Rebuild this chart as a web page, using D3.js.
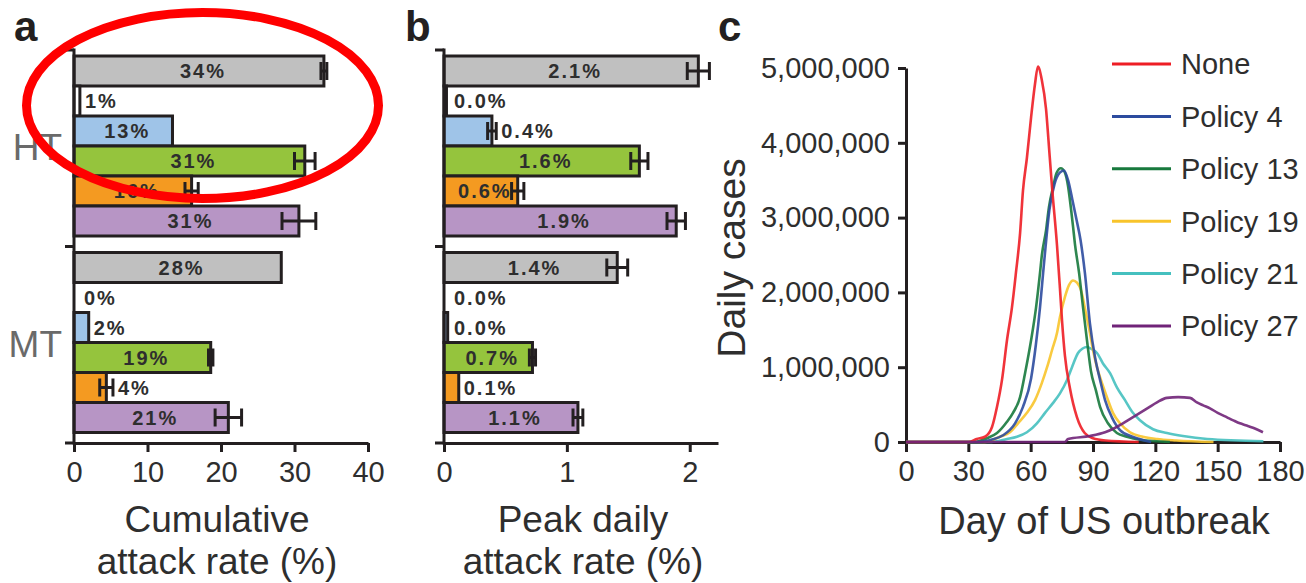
<!DOCTYPE html>
<html><head><meta charset="utf-8">
<script src="https://cdn.jsdelivr.net/npm/d3@7"></script>
<style>
body{margin:0;background:#fff;}
svg{display:block;font-family:"Liberation Sans",Arial,Helvetica,sans-serif;}
</style></head><body>
<svg id="chart" width="1306" height="583"></svg>
<script>
// ---------- DATA ----------
const groups = ["HT", "MT"];
const barKeys = ["grey", "white", "blue", "green", "orange", "purple"];
const barColors = ["#c0c0c0", "#ffffff", "#9fc4e8", "#95c43d", "#f49a21", "#b795c5"];

// Panel a: cumulative attack rate (%)
const cumHT    = [34.0, 0.8, 13.4, 31.4, 16.0, 30.6];
const cumHTErr = [0.4, 0, 0, 1.4, 0.9, 2.3];
const cumMT    = [28.2, 0, 2.0, 18.6, 4.4, 21.0];
const cumMTErr = [0, 0, 0, 0.3, 0.9, 1.8];
const cumTicks = [0, 10, 20, 30, 40];

// Panel b: peak daily attack rate (%)
const peakHT    = [2.07, 0.02, 0.39, 1.59, 0.60, 1.89];
const peakHTErr = [0.09, 0, 0.035, 0.07, 0.05, 0.075];
const peakMT    = [1.41, 0.0, 0.03, 0.72, 0.12, 1.09];
const peakMTErr = [0.085, 0, 0, 0.025, 0, 0.04];
const peakTicks = [0, 1, 2];

// Panel c: daily cases (millions) by day of US outbreak
const seriesNames  = ["None", "Policy 4", "Policy 13", "Policy 19", "Policy 21", "Policy 27"];
const seriesColors = ["#ee1d25", "#2c4b9e", "#17793d", "#f8c42b", "#45c0bf", "#702378"];
const noneDays  = [0,30,34,38,41.4,43.8,46.2,48.6,51,52.9,54.9,56.3,58.2,60.2,62.1,63.5,65.3,67.4,68.8,70.3,72.7,74.1,75.1,76.5,78.9,82.3,86,90,96,112];
const noneCases = [0,0,0.04,0.07,0.2,0.47,0.83,1.36,1.8,2.26,2.79,3.36,3.8,4.34,4.79,5.02,4.85,4.45,3.95,3.4,2.62,2.05,1.62,1.15,0.72,0.33,0.12,0.05,0.02,0];
const p4Days  = [0,35,41,46.7,52.5,56.3,60.2,62.5,64.5,66,67.2,69,71.5,74,76,78,80,82,84,86.1,88.5,91,93.4,95.8,99.1,103,109,118];
const p4Cases = [0,0,0.03,0.09,0.25,0.47,0.85,1.3,1.8,2.26,2.62,3.1,3.45,3.6,3.63,3.5,3.25,2.98,2.7,2.26,1.59,1.13,0.83,0.56,0.33,0.16,0.07,0];
const p13Days  = [0,33,39,43.8,48.6,51.5,54.9,57.3,60.2,62.6,64.5,65.4,67.4,68.8,70.7,72.5,74.5,76.5,78,79.4,80.4,81.3,83.3,85.2,87.1,89,91.4,93.4,97.2,101.5,106.3,112.6,127];
const p13Cases = [0,0,0.05,0.12,0.27,0.39,0.6,0.92,1.36,1.8,2.26,2.5,2.83,3.14,3.4,3.6,3.66,3.6,3.42,3.12,2.88,2.65,2.26,1.8,1.36,0.95,0.69,0.47,0.25,0.12,0.07,0.03,0];
const p19Days  = [0,38,45.2,50,53.9,58.2,62.1,65.4,67.9,70.3,72.7,74.1,76.5,78.5,80.4,82.3,84.2,86.6,88.5,90,91.9,94.3,96.7,99.6,103,107.8,114,120.8,130,148];
const p19Cases = [0,0,0.07,0.13,0.25,0.39,0.56,0.79,1.0,1.23,1.46,1.67,1.94,2.1,2.16,2.13,2.03,1.72,1.46,1.23,1.0,0.79,0.6,0.39,0.25,0.13,0.07,0.04,0.02,0];
const p21Days  = [0,40,48.6,53.4,58.2,63,66.9,70.7,74.1,77.5,79.9,82.8,85,87.1,89.5,91.9,94.8,98.2,101.5,105.4,109.2,112.6,118.9,125.6,133.3,145,172];
const p21Cases = [0,0,0.04,0.07,0.13,0.25,0.39,0.52,0.65,0.83,1.0,1.19,1.25,1.27,1.24,1.19,1.05,0.92,0.73,0.56,0.39,0.29,0.17,0.12,0.08,0.04,0.01];
const p27Days  = [0,76.5,78,88.5,95.8,100,104.4,108.5,112.6,116.7,120.8,125.6,131,136.7,140,143,146.3,150,154.5,157.5,160.7,164,167,171.8];
const p27Cases = [0,0,0.04,0.08,0.13,0.18,0.25,0.32,0.39,0.46,0.53,0.59,0.6,0.59,0.53,0.49,0.45,0.39,0.33,0.29,0.25,0.22,0.19,0.13];
const dayTicks = [0, 30, 60, 90, 120, 150, 180];
const caseTicks = [0, 1e6, 2e6, 3e6, 4e6, 5e6];

// ---------- DRAW ----------
const svg = d3.select("#chart");
const ink = "#231f20";
const txt = "#2e2e2e";

function styleAxis(g, fs) {
  g.select(".domain").attr("stroke", ink).attr("stroke-width", 3);
  g.selectAll(".tick line").attr("stroke", ink).attr("stroke-width", 3);
  g.selectAll(".tick text").attr("fill", txt).style("font-size", fs + "px").style("font-family", '"Liberation Sans",Arial,sans-serif');
}

function barPanel(o) {
  const x = d3.scaleLinear().domain([0, o.max]).range([o.x0, o.x1]);
  const gScale = d3.scaleBand().domain(groups).range([50, 443]);
  const inner = d3.scaleBand().domain(d3.range(barKeys.length)).range([6, 186]);
  const bh = inner.bandwidth();
  const data = [];
  groups.forEach((g, gi) => {
    const vals = gi === 0 ? o.ht : o.mt;
    const errs = gi === 0 ? o.htErr : o.mtErr;
    vals.forEach((v, i) => data.push({g, i, v, e: errs[i]}));
  });
  const p = svg.append("g");
  p.selectAll("rect.bar").data(data.filter(d => d.v > 0)).join("rect")
    .attr("x", x(0))
    .attr("y", d => gScale(d.g) + inner(d.i))
    .attr("width", d => x(d.v) - x(0))
    .attr("height", bh)
    .attr("fill", d => barColors[d.i])
    .attr("stroke", ink).attr("stroke-width", 3);
  const eb = data.filter(d => d.e > 0);
  const cy = d => gScale(d.g) + inner(d.i) + bh / 2;
  p.selectAll("line.eh").data(eb).join("line")
    .attr("x1", d => x(d.v - d.e)).attr("x2", d => x(d.v + d.e))
    .attr("y1", cy).attr("y2", cy).attr("stroke", ink).attr("stroke-width", 3);
  [-1, 1].forEach(s => {
    p.selectAll("line.ec" + (s + 1)).data(eb).join("line")
      .attr("x1", d => x(d.v + s * d.e)).attr("x2", d => x(d.v + s * d.e))
      .attr("y1", d => cy(d) - 9).attr("y2", d => cy(d) + 9)
      .attr("stroke", ink).attr("stroke-width", 3);
  });
  p.selectAll("text.lab").data(data).join("text")
    .attr("x", d => {
      const w = x(d.v) - x(0);
      if (w > 60) return (x(0) + x(d.v)) / 2 + 4;
      return Math.max(x(d.v), x(d.v + d.e), x(0) + 5) + 5;
    })
    .attr("y", cy).attr("dy", "0.36em")
    .attr("text-anchor", d => (x(d.v) - x(0) > 60 ? "middle" : "start"))
    .attr("fill", txt).style("font-size", "20px").style("font-weight", "bold")
    .style("letter-spacing", "2px")
    .text(d => o.fmt(d.v) + "%");
  p.append("line").attr("x1", o.x0).attr("x2", o.x0).attr("y1", 48.5).attr("y2", 444.5)
    .attr("stroke", ink).attr("stroke-width", 3);
  const bounds = [gScale("HT"), gScale("MT"), gScale("MT") + gScale.bandwidth()];
  p.selectAll("line.yt").data(bounds).join("line")
    .attr("x1", o.x0 - 9).attr("x2", o.x0).attr("y1", d => d).attr("y2", d => d)
    .attr("stroke", ink).attr("stroke-width", 3);
  const ax = p.append("g").attr("transform", "translate(0,443)")
    .call(d3.axisBottom(x).tickValues(o.ticks).tickSize(9).tickPadding(9).tickSizeOuter(0).tickFormat(d3.format("d")));
  styleAxis(ax, 29);
  o.title.forEach((t, k) => {
    p.append("text").attr("x", o.tx).attr("y", 532 + k * 42).attr("text-anchor", "middle")
      .attr("fill", txt).style("font-size", "37px").text(t);
  });
  return gScale;
}

const gA = barPanel({x0: 74, x1: 368, max: 40, ticks: cumTicks, ht: cumHT, htErr: cumHTErr, mt: cumMT, mtErr: cumMTErr,
  fmt: d3.format(".0f"), title: ["Cumulative", "attack rate (%)"], tx: 217});
barPanel({x0: 444, x1: 718, max: 2.23, ticks: peakTicks, ht: peakHT, htErr: peakHTErr, mt: peakMT, mtErr: peakMTErr,
  fmt: d3.format(".1f"), title: ["Peak daily", "attack rate (%)"], tx: 583});

svg.selectAll("text.grp").data(groups).join("text")
  .attr("x", 62).attr("y", d => gA(d) + gA.bandwidth() / 2 + 12)
  .attr("text-anchor", "end").attr("fill", "#6a6a6a").style("font-size", "37px").text(d => d);

// Panel c
const xC = d3.scaleLinear().domain([0, 180]).range([906, 1280]);
const yC = d3.scaleLinear().domain([0, 5e6]).range([442, 68]);
const axX = svg.append("g").attr("transform", "translate(0,442)")
  .call(d3.axisBottom(xC).tickValues(dayTicks).tickSize(10).tickPadding(8).tickSizeOuter(0));
styleAxis(axX, 29);
const axY = svg.append("g").attr("transform", "translate(906,0)")
  .call(d3.axisLeft(yC).tickValues(caseTicks).tickFormat(d3.format(",")).tickSize(8).tickPadding(8).tickSizeOuter(0));
styleAxis(axY, 29);

const series = [
  {name: seriesNames[0], color: seriesColors[0], days: noneDays, cases: noneCases},
  {name: seriesNames[1], color: seriesColors[1], days: p4Days, cases: p4Cases},
  {name: seriesNames[2], color: seriesColors[2], days: p13Days, cases: p13Cases},
  {name: seriesNames[3], color: seriesColors[3], days: p19Days, cases: p19Cases},
  {name: seriesNames[4], color: seriesColors[4], days: p21Days, cases: p21Cases},
  {name: seriesNames[5], color: seriesColors[5], days: p27Days, cases: p27Cases}
];
const drawOrder = [4, 3, 2, 1, 0, 5];
const line = d3.line().x(d => xC(d[0])).y(d => yC(d[1] * 1e6)).curve(d3.curveMonotoneX);
svg.append("g").selectAll("path").data(drawOrder.map(i => series[i])).join("path")
  .attr("d", s => line(s.days.map((d, k) => [d, s.cases[k]])))
  .attr("fill", "none").attr("stroke", s => s.color).attr("stroke-width", 2.6)
  .attr("stroke-opacity", 0.9);

const lg = svg.append("g");
series.forEach((s, i) => {
  const y = 64 + i * 52.4;
  lg.append("line").attr("x1", 1112).attr("x2", 1171).attr("y1", y).attr("y2", y)
    .attr("stroke", s.color).attr("stroke-width", 3);
  lg.append("text").attr("x", 1181).attr("y", y).attr("dy", "0.36em")
    .attr("fill", txt).style("font-size", "29px").text(s.name);
});

svg.append("text").attr("x", 1104).attr("y", 534).attr("text-anchor", "middle")
  .attr("fill", txt).style("font-size", "38px").text("Day of US outbreak");
svg.append("text").attr("transform", "translate(745,258) rotate(-90)").attr("text-anchor", "middle")
  .attr("fill", txt).style("font-size", "39px").text("Daily cases");

[["a", 14], ["b", 405], ["c", 718]].forEach(([t, x]) => {
  svg.append("text").attr("x", x).attr("y", 41).attr("fill", ink)
    .style("font-size", "42px").style("font-weight", "bold").text(t);
});

svg.append("ellipse").attr("cx", 202.5).attr("cy", 105.5).attr("rx", 176).attr("ry", 93)
  .attr("fill", "none").attr("stroke", "#ff0000").attr("stroke-width", 9);
</script>
</body></html>
